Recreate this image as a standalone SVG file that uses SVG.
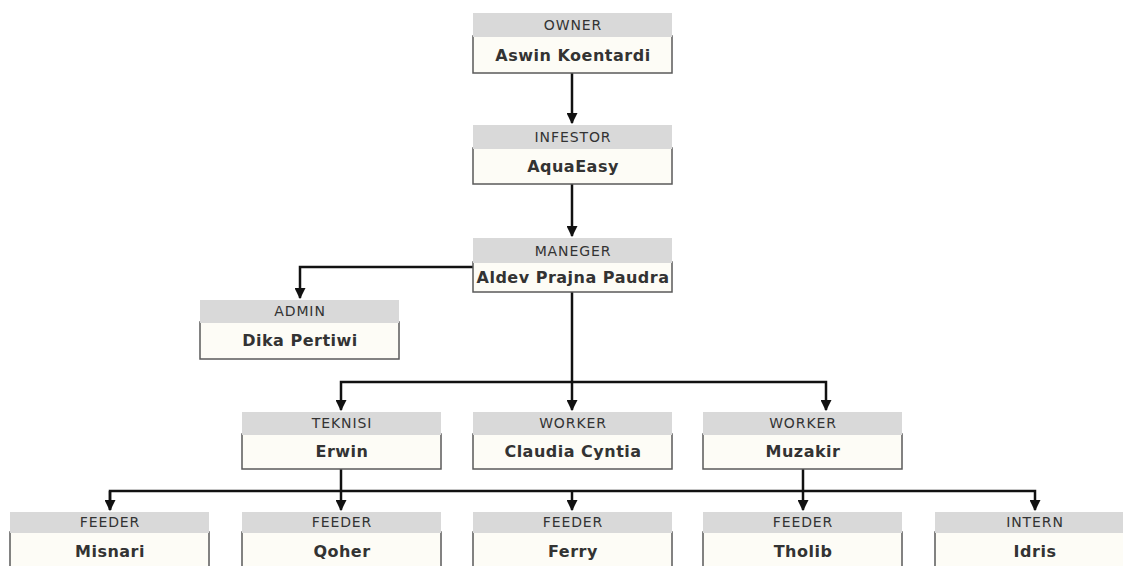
<svg xmlns="http://www.w3.org/2000/svg" width="1123" height="566" viewBox="0 0 1123 566">
<style>
.hdr{fill:#d9d9d9;}
.body{fill:#fdfcf6;stroke:#5a5a5a;stroke-width:1.5;}
.role{font-family:"DejaVu Sans",sans-serif;font-size:14px;fill:#333;text-anchor:middle;letter-spacing:0.9px;}
.name{font-family:"DejaVu Sans",sans-serif;font-size:16px;font-weight:bold;fill:#333;text-anchor:middle;letter-spacing:0.5px;}
.conn{fill:none;stroke:#111;stroke-width:2.5;}
</style>
<defs>
<marker id="ah" viewBox="0 0 10 10" refX="9" refY="5" markerWidth="4.4" markerHeight="4.4" orient="auto" markerUnits="strokeWidth">
<path d="M0,0 L10,5 L0,10 z" fill="#111"/>
</marker>
</defs>
<rect width="1123" height="566" fill="#ffffff"/>
<g id="connectors">
<path class="conn" d="M572,73 V123" marker-end="url(#ah)"/>
<path class="conn" d="M572,184 V236" marker-end="url(#ah)"/>
<path class="conn" d="M473,267 H300 V298" marker-end="url(#ah)"/>
<path class="conn" d="M572,292 V410" marker-end="url(#ah)"/>
<path class="conn" d="M572,382 H341 V410" marker-end="url(#ah)"/>
<path class="conn" d="M572,382 H826 V410" marker-end="url(#ah)"/>
<path class="conn" d="M341,469 V510" marker-end="url(#ah)"/>
<path class="conn" d="M803,469 V510" marker-end="url(#ah)"/>
<path class="conn" d="M110,510 V491 H1035 V510" marker-end="url(#ah)"/>
<path class="conn" d="M110,491 V510" marker-end="url(#ah)"/>
<path class="conn" d="M572,491 V510" marker-end="url(#ah)"/>
</g>
<g id="owner">
<rect class="body" x="473" y="36" width="199" height="37"/>
<rect class="hdr" x="473" y="13" width="199" height="24"/>
<text class="role" x="573" y="30">OWNER</text>
<text class="name" x="573" y="61">Aswin Koentardi</text>
</g>
<g id="infestor">
<rect class="body" x="473" y="148" width="199" height="36"/>
<rect class="hdr" x="473" y="125" width="199" height="24"/>
<text class="role" x="573" y="142">INFESTOR</text>
<text class="name" x="573" y="172">AquaEasy</text>
</g>
<g id="manager">
<rect class="body" x="473" y="262" width="199" height="30"/>
<rect class="hdr" x="473" y="238" width="199" height="25"/>
<text class="role" x="573" y="256">MANEGER</text>
<text class="name" x="573" y="283">Aldev Prajna Paudra</text>
</g>
<g id="admin">
<rect class="body" x="200" y="322" width="199" height="37"/>
<rect class="hdr" x="200" y="300" width="199" height="23"/>
<text class="role" x="300" y="316">ADMIN</text>
<text class="name" x="300" y="346">Dika Pertiwi</text>
</g>
<g id="teknisi">
<rect class="body" x="242" y="434" width="199" height="35"/>
<rect class="hdr" x="242" y="412" width="199" height="23"/>
<text class="role" x="342" y="428">TEKNISI</text>
<text class="name" x="342" y="457">Erwin</text>
</g>
<g id="worker-claudia">
<rect class="body" x="473" y="434" width="199" height="35"/>
<rect class="hdr" x="473" y="412" width="199" height="23"/>
<text class="role" x="573" y="428">WORKER</text>
<text class="name" x="573" y="457">Claudia Cyntia</text>
</g>
<g id="worker-muzakir">
<rect class="body" x="703" y="434" width="199" height="35"/>
<rect class="hdr" x="703" y="412" width="199" height="23"/>
<text class="role" x="803" y="428">WORKER</text>
<text class="name" x="803" y="457">Muzakir</text>
</g>
<g id="feeder-misnari">
<rect class="body" x="10" y="532" width="199" height="45"/>
<rect class="hdr" x="10" y="512" width="199" height="21"/>
<text class="role" x="110" y="527">FEEDER</text>
<text class="name" x="110" y="557">Misnari</text>
</g>
<g id="feeder-qoher">
<rect class="body" x="242" y="532" width="199" height="45"/>
<rect class="hdr" x="242" y="512" width="199" height="21"/>
<text class="role" x="342" y="527">FEEDER</text>
<text class="name" x="342" y="557">Qoher</text>
</g>
<g id="feeder-ferry">
<rect class="body" x="473" y="532" width="199" height="45"/>
<rect class="hdr" x="473" y="512" width="199" height="21"/>
<text class="role" x="573" y="527">FEEDER</text>
<text class="name" x="573" y="557">Ferry</text>
</g>
<g id="feeder-tholib">
<rect class="body" x="703" y="532" width="199" height="45"/>
<rect class="hdr" x="703" y="512" width="199" height="21"/>
<text class="role" x="803" y="527">FEEDER</text>
<text class="name" x="803" y="557">Tholib</text>
</g>
<g id="intern-idris">
<rect class="body" x="935" y="532" width="199" height="45"/>
<rect class="hdr" x="935" y="512" width="199" height="21"/>
<text class="role" x="1035" y="527">INTERN</text>
<text class="name" x="1035" y="557">Idris</text>
</g>
</svg>
